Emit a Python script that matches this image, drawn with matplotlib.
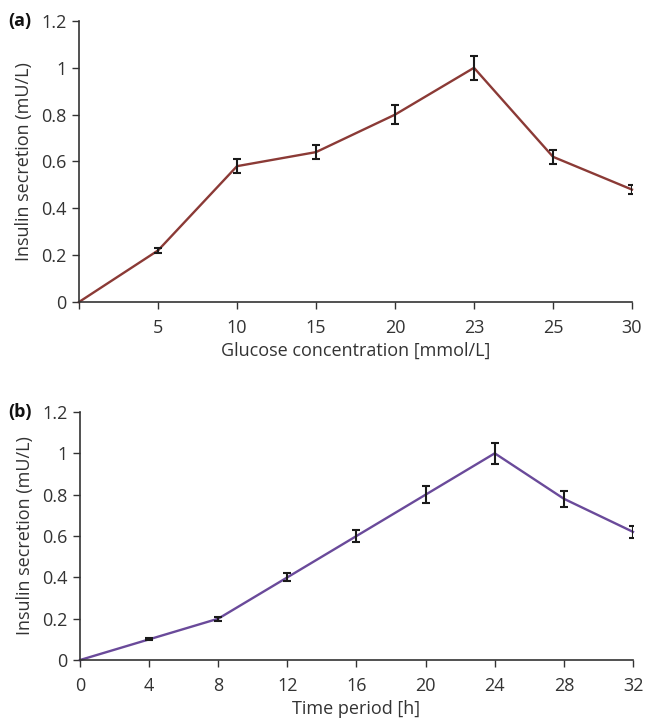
import matplotlib
matplotlib.use("Agg")
import matplotlib.pyplot as plt
import numpy as np

plt.rcParams['font.family'] = ['Open Sans', 'DejaVu Sans']

# Panel (a)
glucose_labels = ['', '5', '10', '15', '20', '23', '25', '30']
insulin_a = [0.0, 0.22, 0.58, 0.64, 0.80, 1.00, 0.62, 0.48]
err_a = [0.0, 0.01, 0.03, 0.03, 0.04, 0.05, 0.03, 0.02]

# Panel (b)
time_h = [0, 4, 8, 12, 16, 20, 24, 28, 32]
insulin_b = [0.0, 0.10, 0.20, 0.40, 0.60, 0.80, 1.00, 0.78, 0.62]
err_b = [0.0, 0.005, 0.01, 0.02, 0.03, 0.04, 0.05, 0.04, 0.03]

yticks = [0, 0.2, 0.4, 0.6, 0.8, 1.0, 1.2]
ytick_labels = ['0', '0.2', '0.4', '0.6', '0.8', '1', '1.2']

fig = plt.figure(figsize=(6.46, 7.23), dpi=100)
ax1 = fig.add_axes([0.1223, 0.5823, 0.9783 - 0.1223, 0.971 - 0.5823])
ax2 = fig.add_axes([0.1238, 0.0871, 0.9799 - 0.1238, 0.4302 - 0.0871])

txt = '#333333'
fs = 13

def style(ax):
    for s in ['top', 'right']:
        ax.spines[s].set_visible(False)
    for s in ['left', 'bottom']:
        ax.spines[s].set_color('#333333')
        ax.spines[s].set_linewidth(1.2)
    ax.tick_params(direction='out', length=5, width=1, colors='#333333',
                   labelsize=fs, labelcolor=txt)
    ax.tick_params(axis='x', pad=7)
    ax.tick_params(axis='y', pad=4)
    ax.set_ylim(0, 1.2)
    ax.set_yticks(yticks)
    ax.set_yticklabels(ytick_labels)
    ax.set_ylabel('Insulin secretion (mU/L)', fontsize=fs, color=txt, labelpad=6)

xa = np.arange(len(glucose_labels))
ax1.plot(xa, insulin_a, color='#8b3a36', lw=1.7, zorder=2, clip_on=False)
ax1.errorbar(xa[1:], insulin_a[1:], yerr=err_a[1:], fmt='none', ecolor='#1a1a1a',
             elinewidth=1.5, capsize=3, capthick=1.5, zorder=3)
style(ax1)
ax1.set_xlim(0, 7)
ax1.set_xticks(xa)
ax1.set_xticklabels(glucose_labels)
ax1.set_xlabel('Glucose concentration [mmol/L]', fontsize=fs, color=txt, labelpad=4)

ax2.plot(time_h, insulin_b, color='#6a4a9a', lw=1.7, zorder=2, clip_on=False)
ax2.errorbar(time_h[1:], insulin_b[1:], yerr=err_b[1:], fmt='none', ecolor='#1a1a1a',
             elinewidth=1.5, capsize=3, capthick=1.5, zorder=3)
style(ax2)
ax2.set_xlim(0, 32)
ax2.set_xticks(time_h)
ax2.set_xlabel('Time period [h]', fontsize=fs, color=txt, labelpad=4)

fig.text(8 / 646, 1 - 21 / 723, '(a)', fontsize=13, fontweight='bold', va='center', ha='left', color='#111111')
fig.text(8 / 646, 1 - 412 / 723, '(b)', fontsize=13, fontweight='bold', va='center', ha='left', color='#111111')

fig.savefig('out.png', dpi=100)
